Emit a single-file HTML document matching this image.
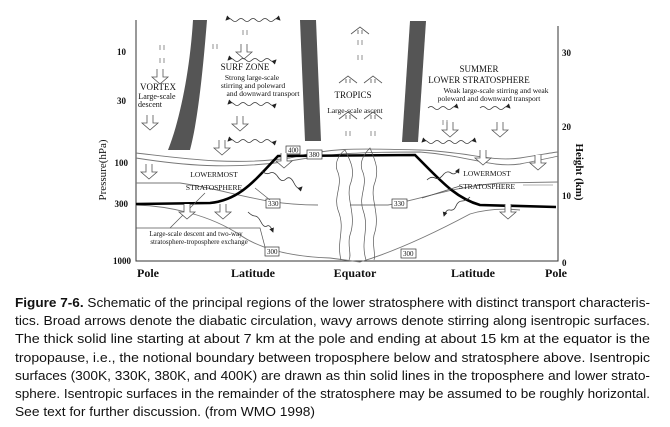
<!DOCTYPE html>
<html><head><meta charset="utf-8"><style>
html,body{margin:0;padding:0;background:#fff;width:670px;height:427px;overflow:hidden}
svg{display:block}
.s{font-family:"Liberation Serif",serif;fill:#111}
.c{font-family:"Liberation Sans",sans-serif;fill:#111;font-size:13px}
</style></head><body>
<svg width="670" height="427" viewBox="0 0 670 427" xmlns="http://www.w3.org/2000/svg">
<defs>
<marker id="ah" markerWidth="6" markerHeight="6" refX="5" refY="3" orient="auto"><path d="M0,0 L6,3 L0,6 z" fill="#222"/></marker>
<marker id="ahs" markerWidth="6" markerHeight="6" refX="1" refY="3" orient="auto"><path d="M6,0 L0,3 L6,6 z" fill="#222"/></marker>
<g id="dn"><path d="M-3,-8 V0 H-8 L0,7 L8,0 H3 V-8" fill="#fff" stroke="#555" stroke-width="0.8"/></g>
<g id="up"><path d="M-9,4 L0,-3 L9,4" fill="none" stroke="#555" stroke-width="0.8"/><path d="M-2,4 V0 M2,4 V0" stroke="#555" stroke-width="0.8"/></g>
<g id="ds"><path d="M-2,0 V5 M2,0 V5" stroke="#777" stroke-width="0.8"/></g>
</defs>
<path d="M136,20 V261 H558 V26" fill="none" stroke="#333" stroke-width="1"/>
<g class="s" font-size="9" text-anchor="end" font-weight="bold">
<text x="126" y="55">10</text><text x="126" y="104">30</text><text x="128" y="166">100</text><text x="128" y="207">300</text><text x="131" y="264">1000</text>
</g>
<text class="s" font-size="11" transform="translate(106,170) rotate(-90)" text-anchor="middle">Pressure(hPa)</text>
<g class="s" font-size="9" font-weight="bold"><text x="562" y="56">30</text><text x="562" y="130">20</text><text x="562" y="199">10</text><text x="562" y="266">0</text></g>
<text class="s" font-size="11" font-weight="bold" transform="translate(576,172) rotate(90)" text-anchor="middle">Height (km)</text>
<g class="s" font-size="12" text-anchor="middle" font-weight="bold">
<text x="148" y="277">Pole</text><text x="253" y="277">Latitude</text><text x="355" y="277">Equator</text><text x="473" y="277">Latitude</text><text x="556" y="277">Pole</text>
</g>
<path d="M193,20 L207,20 C203,70 198,120 190,150 L168,150 C180,120 190,70 193,20 Z" fill="#555"/>
<path d="M300,20 L316,20 L321,141 L305,141 Z" fill="#555"/>
<path d="M410,21 L426,21 L418,142 L402,142 Z" fill="#555"/>
<g fill="none" stroke="#777" stroke-width="0.9">
<path d="M136,153 C180,158 230,166 290,158 C330,148 350,148 420,150 C470,152 490,162 520,158 C540,155 555,152 558,152"/>
<path d="M136,158 C180,165 230,170 290,161 C330,154 350,152 420,152 C470,156 490,168 520,164 C540,160 555,157 558,156"/>
<path d="M136,183 L180,183 C230,190 260,205 318,205"/>
<path d="M350,205 L388,205 C420,200 450,187 500,183 L558,182"/>
<path d="M136,205 C170,206 210,215 240,235 C265,252 300,257 330,258 L360,262 C400,250 440,230 470,214 C490,208 510,209 520,210"/>
</g>
<path d="M136,204 L210,203 C240,200 255,180 278,156 L415,155 C440,180 455,198 480,205 L556,207" fill="none" stroke="#000" stroke-width="2.6"/>
<g class="s" font-size="7">
<rect x="286" y="146" width="14" height="8" fill="#fff" stroke="#333" stroke-width="0.7"/><text x="288" y="152.5">400</text>
<rect x="307" y="150" width="15" height="9" fill="#fff" stroke="#333" stroke-width="0.7"/><text x="309" y="157">380</text>
<rect x="266" y="199" width="14" height="9" fill="#fff" stroke="#333" stroke-width="0.7"/><text x="268" y="206">330</text>
<rect x="392" y="199" width="15" height="9" fill="#fff" stroke="#333" stroke-width="0.7"/><text x="394" y="206">330</text>
<rect x="265" y="247" width="14" height="9" fill="#fff" stroke="#333" stroke-width="0.7"/><text x="267" y="254">300</text>
<rect x="401" y="249" width="15" height="9" fill="#fff" stroke="#333" stroke-width="0.7"/><text x="403" y="256">300</text>
</g>
<g class="s" text-anchor="middle">
<text x="158" y="90" font-size="9">VORTEX</text>
<text x="157" y="99" font-size="8">Large-scale</text><text x="150" y="107" font-size="8">descent</text>
<text x="245" y="70" font-size="9">SURF ZONE</text>
<text x="252" y="80" font-size="7.5">Strong large-scale</text>
<text x="253" y="88" font-size="7.5">stirring and poleward</text>
<text x="263" y="96" font-size="7.5">and downward transport</text>
<text x="353" y="98" font-size="9">TROPICS</text>
<text x="355" y="113" font-size="7.5">Large-scale ascent</text>
<text x="479" y="72" font-size="9">SUMMER</text>
<text x="479" y="83" font-size="9">LOWER STRATOSPHERE</text>
<text x="496" y="93" font-size="7.5">Weak large-scale stirring and weak</text>
<text x="489" y="101" font-size="7.5">poleward and downward transport</text>
<text x="214" y="177" font-size="7.5">LOWERMOST</text><text x="214" y="190" font-size="7.5">STRATOSPHERE</text>
<text x="487" y="176" font-size="7.5">LOWERMOST</text><text x="487" y="189" font-size="7.5">STRATOSPHERE</text>
<text x="196" y="236" font-size="7">Large-scale descent and two-way</text>
<text x="199" y="244" font-size="7">stratosphere-troposphere exchange</text>
</g>
<path d="M136,228 H260 L265,247" fill="none" stroke="#555" stroke-width="0.7"/>
<path d="M170,228 L205,193" stroke="#555" stroke-width="0.7"/>
<path d="M255,188 L270,200" stroke="#555" stroke-width="0.7"/>
<path d="M460,186 L422,198" stroke="#555" stroke-width="0.7"/>
<path d="M523,185 L553,185" stroke="#999" stroke-width="0.7"/>
<use href="#dn" x="160" y="77"/><use href="#dn" x="150" y="123"/><use href="#dn" x="149" y="172"/>
<use href="#dn" x="244" y="52"/><use href="#dn" x="240" y="124"/><use href="#dn" x="223" y="212"/><use href="#dn" x="222" y="148"/>
<use href="#dn" x="284" y="161"/><use href="#dn" x="187" y="212"/><use href="#dn" x="508" y="212"/>
<use href="#dn" x="450" y="130"/><use href="#dn" x="500" y="130"/><use href="#dn" x="483" y="158"/><use href="#dn" x="538" y="163"/>
<use href="#up" x="360" y="30"/><use href="#up" x="348" y="79"/><use href="#up" x="373" y="79"/>
<use href="#up" x="348" y="115"/><use href="#up" x="373" y="115"/>
<use href="#ds" x="162" y="45"/><use href="#ds" x="162" y="58"/><use href="#ds" x="245" y="30"/><use href="#ds" x="360" y="40"/><use href="#ds" x="360" y="55"/><use href="#ds" x="348" y="131"/><use href="#ds" x="373" y="131"/><use href="#ds" x="215" y="44"/><use href="#ds" x="445" y="120"/>
<g fill="none" stroke="#333" stroke-width="0.8" marker-end="url(#ah)" marker-start="url(#ahs)">
<path d="M226,20 q3,-3 6,0 t6,0 t6,0 t6,0 t6,0 t6,0 t6,0 t6,0 t6,0"/>
<path d="M228,60 q3,-3 6,0 t6,0 t6,0 t6,0 t6,0 t6,0 t6,0 t6,0"/>
<path d="M228,104 q3,-3 6,0 t6,0 t6,0 t6,0 t6,0 t6,0 t6,0 t6,0"/>
<path d="M228,141 q3,-3 6,0 t6,0 t6,0 t6,0 t6,0 t6,0 t6,0 t6,0"/>
<path d="M422,142 q3,-3 6,0 t6,0 t6,0 t6,0 t6,0 t6,0 t6,0 t6,0 t6,0"/>
</g>
<g fill="none" stroke="#333" stroke-width="0.8" marker-end="url(#ah)">
<path d="M262,171 q4,4 8,2 t8,4 t8,2 t8,4 t8,4"/>
<path d="M248,212 q4,4 7,4 t6,6 t6,4 t6,6"/>
<path d="M428,108 q3,-3 6,0 t6,0 t6,0 t6,0 t6,0"/>
<path d="M480,108 q3,-3 6,0 t6,0 t6,0 t6,0 t6,0"/>
<path d="M427,180 q4,-4 8,-2 t8,-3 t8,-2 t8,-4"/>
<path d="M470,197 q-4,4 -8,4 t-6,5 t-6,4 t-6,6"/>
</g>
<g fill="none" stroke="#555" stroke-width="0.7">
<path d="M341,260 C336,240 346,230 338,210 C333,195 344,185 337,170 C334,160 342,152 345,150 C350,160 356,170 350,185 C346,200 357,215 350,235 C347,245 352,255 349,260"/>
<path d="M366,260 C360,240 370,230 363,210 C358,195 369,185 362,170 C359,160 366,152 370,148 C375,160 380,170 374,185 C370,200 381,215 374,235 C372,245 376,255 374,260"/>
</g>
<g class="c">
<text x="15" y="307" textLength="635" lengthAdjust="spacingAndGlyphs"><tspan font-weight="bold">Figure 7-6.</tspan> Schematic of the principal regions of the lower stratosphere with distinct transport characteris-</text>
<text x="15" y="325" textLength="635" lengthAdjust="spacingAndGlyphs">tics.  Broad arrows denote the diabatic circulation, wavy arrows denote stirring along isentropic surfaces.</text>
<text x="15" y="343" textLength="635" lengthAdjust="spacingAndGlyphs">The thick solid line starting at about 7 km at the pole and ending at about 15 km at the equator is the</text>
<text x="15" y="362" textLength="635" lengthAdjust="spacingAndGlyphs">tropopause, i.e., the notional boundary between troposphere below and stratosphere above.  Isentropic</text>
<text x="15" y="380" textLength="635" lengthAdjust="spacingAndGlyphs">surfaces (300K, 330K, 380K, and 400K) are drawn as thin solid lines in the troposphere and lower strato-</text>
<text x="15" y="398" textLength="635" lengthAdjust="spacingAndGlyphs">sphere.  Isentropic surfaces in the remainder of the stratosphere may be assumed to be roughly horizontal.</text>
<text x="15" y="416" textLength="300" lengthAdjust="spacingAndGlyphs">See text for further discussion.  (from WMO 1998)</text>
</g>
</svg>
</body></html>
